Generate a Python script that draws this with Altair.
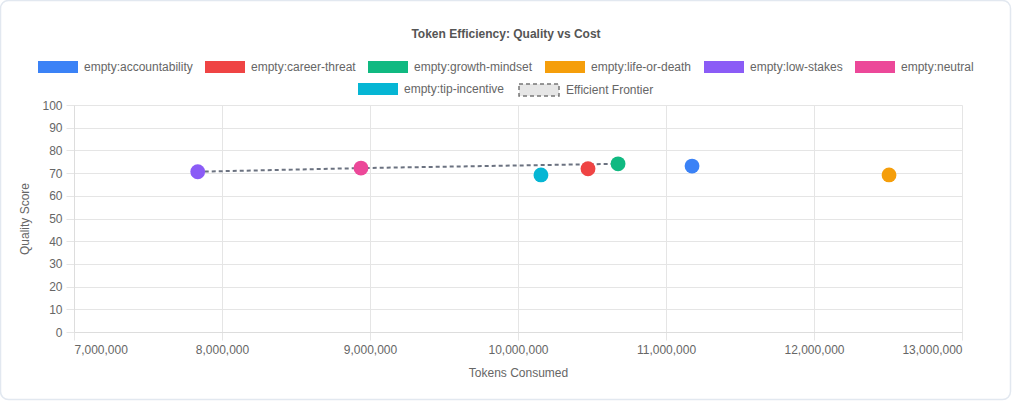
import altair as alt
import pandas as pd

# ---- data ----
series = ["empty:accountability", "empty:career-threat", "empty:growth-mindset",
          "empty:life-or-death", "empty:low-stakes", "empty:neutral"]
tokens = [11176000, 10473000, 10676000, 12507000, 7836000, 8939000]
quality = [73.1, 71.9, 74.1, 69.2, 70.6, 72.2]
colors = ["#3b82f6", "#ef4444", "#10b981", "#f59e0b", "#8b5cf6", "#ec4899"]

tip_series = ["empty:tip-incentive"]
tip_tokens = [10155000]
tip_quality = [69.2]
tip_colors = ["#06b6d4"]

frontier_tokens = [7836000, 8939000, 10676000]
frontier_quality = [70.6, 72.2, 74.1]
frontier_name = "Efficient Frontier"

x_ticks = [7000000, 8000000, 9000000, 10000000, 11000000, 12000000, 13000000]
y_ticks = [0, 10, 20, 30, 40, 50, 60, 70, 80, 90, 100]

FONT = "Helvetica Neue, Helvetica, Arial, Liberation Sans, sans-serif"
BOX = "M-1,-0.3H1V0.3H-1Z"

df_main = pd.DataFrame({"series": series, "tokens": tokens, "quality": quality})
df_tip = pd.DataFrame({"series": tip_series, "tokens": tip_tokens, "quality": tip_quality})
df_front = pd.DataFrame({"tokens": frontier_tokens, "quality": frontier_quality,
                         "name": [frontier_name] * len(frontier_tokens)})

x_enc = alt.X("tokens:Q", title="Tokens Consumed",
              scale=alt.Scale(domain=[7000000, 13000000], nice=False, zero=False),
              axis=alt.Axis(values=x_ticks, format=",d"))
y_enc = alt.Y("quality:Q", title="Quality Score",
              scale=alt.Scale(domain=[0, 100], nice=False),
              axis=alt.Axis(values=y_ticks))

common_legend = dict(orient="none", direction="horizontal", title=None,
                     symbolType=BOX, symbolSize=1600, labelOffset=6,
                     columnPadding=12, labelFontSize=12, labelColor="#666666",
                     labelFont=FONT, symbolStrokeWidth=0, symbolOpacity=1)

frame = alt.Chart(pd.DataFrame({"k": [0]})).mark_rect(
    fill="transparent", stroke="#e2e8f0", strokeWidth=1.5, cornerRadius=8
).encode(x=alt.value(-73.5), x2=alt.value(936.5), y=alt.value(-104.5), y2=alt.value(294.5))

line = alt.Chart(df_front).mark_line(strokeWidth=2, color="#6b7280").encode(
    x=x_enc, y=y_enc,
    strokeDash=alt.StrokeDash("name:N",
                              scale=alt.Scale(domain=[frontier_name], range=[[4, 3]]),
                              legend=alt.Legend(orient="none", direction="horizontal", title=None,
                                                symbolType=BOX, symbolSize=1600, labelOffset=6,
                                                labelFontSize=12, labelColor="#666666", labelFont=FONT,
                                                symbolFillColor="#e6e6e6", symbolStrokeColor="#777777",
                                                symbolStrokeWidth=1.5,
                                                legendX=444, legendY=-36)),
)

pts = alt.Chart(df_main).mark_circle(size=220, opacity=1).encode(
    x=x_enc, y=y_enc,
    color=alt.Color("series:N", scale=alt.Scale(domain=series, range=colors),
                    legend=alt.Legend(legendX=-36, legendY=-58, **common_legend)),
)

tip = alt.Chart(df_tip).mark_circle(size=220, opacity=1).encode(
    x=x_enc, y=y_enc,
    color=alt.Color("series:N", scale=alt.Scale(domain=tip_series, range=tip_colors),
                    legend=alt.Legend(legendX=284, legendY=-36, **common_legend)),
)

chart = alt.layer(frame, line, pts, tip).resolve_scale(
    color="independent", strokeDash="independent"
).resolve_legend(color="independent", strokeDash="independent").properties(
    width=888, height=227,
    autosize=alt.AutoSizeParams(type="none"),
    padding={"left": 74, "top": 105, "right": 50, "bottom": 69},
    background="white",
    title=alt.Title("Token Efficiency: Quality vs Cost", font=FONT, fontSize=12,
                    fontWeight="bold", color="#555555", anchor="middle", dx=-12, offset=-41),
).configure_view(stroke=None).configure_axis(
    gridColor="#e5e5e5", domainColor="#dddddd", tickColor="#e5e5e5",
    tickSize=8, labelPadding=4, labelFont=FONT, labelFontSize=12, labelColor="#666666",
    titleFont=FONT, titleFontSize=12, titleColor="#666666", titleFontWeight="normal",
).configure_axisX(titlePadding=12).configure_axisY(titlePadding=10)

chart.save("out.html", embed_options={"renderer": "svg", "actions": False})
